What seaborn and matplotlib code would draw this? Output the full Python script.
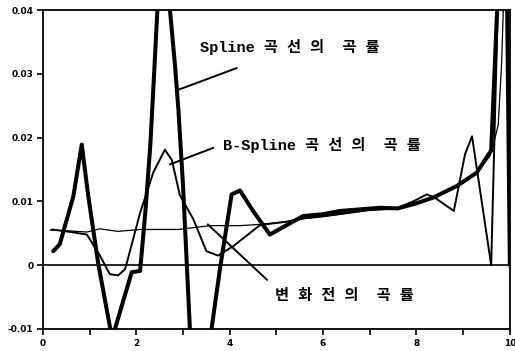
import matplotlib
matplotlib.use("Agg")
import matplotlib.pyplot as plt
import seaborn as sns
import pandas as pd

# Data
orig_x = [0.15, 0.5, 0.94, 1.22, 1.6, 2.08, 2.9, 3.58, 4.22, 4.65, 5.2, 5.6, 6.0, 6.5, 7.0,
          7.57, 8.0, 8.36, 8.86, 9.29, 9.57, 9.64, 9.75, 9.82, 9.86, 9.9]
orig_y = [0.0055, 0.0054, 0.0052, 0.0057, 0.0053, 0.0056, 0.0056, 0.0062, 0.0062, 0.0064,
          0.0068, 0.0073, 0.0076, 0.0081, 0.0086, 0.0088, 0.0097, 0.0106, 0.0124, 0.0145,
          0.0171, 0.0186, 0.0220, 0.0310, 0.0400, 0.0480]

bspl_x = [0.19, 0.6, 0.94, 1.22, 1.43, 1.61, 1.76, 2.08, 2.36, 2.61, 2.76, 2.93, 3.22, 3.5,
          3.75, 4.08, 4.65, 5.2, 5.6, 6.0, 6.5, 7.0, 7.57, 7.93, 8.22, 8.39, 8.8, 9.04,
          9.19, 9.6, 9.74, 9.8]
bspl_y = [0.0056, 0.0052, 0.0048, 0.0015, -0.0014, -0.0016, -0.0006, 0.0082, 0.0145, 0.0181,
          0.0165, 0.0110, 0.0072, 0.0022, 0.0015, 0.0030, 0.0063, 0.0068, 0.0074, 0.0077,
          0.0082, 0.0087, 0.0089, 0.0100, 0.0111, 0.0106, 0.0085, 0.0174, 0.0202, 0.0000,
          0.0400, 0.0500]

spl_x = [0.22, 0.36, 0.65, 0.83, 0.97, 1.18, 1.48, 1.9, 2.08, 2.2, 2.3, 2.38, 2.45, 2.58,
         2.72, 2.83, 2.9, 3.0, 3.15, 3.26, 3.61, 3.79, 4.04, 4.22, 4.5, 4.86, 5.2, 5.57,
         6.0, 6.36, 7.22, 7.6, 8.0, 8.36, 8.86, 9.29, 9.6, 9.9, 10.0]
spl_y = [0.0022, 0.0033, 0.0108, 0.0189, 0.0108, 0.0004, -0.0115, -0.0011, -0.0009, 0.0090,
         0.0190, 0.0300, 0.0400, 0.0620, 0.0400, 0.0311, 0.0244, 0.0124, -0.0105, -0.0270,
         -0.0100, -0.0006, 0.0111, 0.0117, 0.0085, 0.0048, 0.0062, 0.0077, 0.0080, 0.0085,
         0.0090, 0.0089, 0.0097, 0.0106, 0.0124, 0.0145, 0.0180, 0.0700, 0.0000]

x_ticks = [0, 1, 2, 3, 4, 5, 6, 7, 8, 9, 10]
x_ticklabels = ["0", "", "2", "", "4", "", "6", "", "8", "", "10"]
y_ticks = [-0.01, 0.0, 0.01, 0.02, 0.03, 0.04]
y_ticklabels = ["-0.01", "0", "0.01", "0.02", "0.03", "0.04"]

label_spline = "Spline 곡 선 의  곡 률"
label_bspline = "B-Spline 곡 선 의  곡 률"
label_orig = "변 화 전 의  곡 률"

sns.set_theme(style="white")
plt.rcParams['font.family'] = ['DejaVu Sans', 'Noto Sans CJK KR']

fig = plt.figure(figsize=(5.15, 3.51), dpi=100)
ax = fig.add_axes([0.0835, 0.0627, 0.9065, 0.9088])

df_o = pd.DataFrame({"x": orig_x, "y": orig_y})
df_b = pd.DataFrame({"x": bspl_x, "y": bspl_y})
df_s = pd.DataFrame({"x": spl_x, "y": spl_y})

sns.lineplot(data=df_o, x="x", y="y", ax=ax, color="black", lw=0.9, estimator=None, sort=False)
sns.lineplot(data=df_b, x="x", y="y", ax=ax, color="black", lw=1.4, estimator=None, sort=False)
sns.lineplot(data=df_s, x="x", y="y", ax=ax, color="black", lw=2.9, estimator=None, sort=False)

ax.axhline(0, color="black", lw=1.2)

ax.set_xlim(0, 10)
ax.set_ylim(-0.01, 0.04)
ax.set_xticks(x_ticks)
ax.set_xticklabels(x_ticklabels)
ax.set_yticks(y_ticks)
ax.set_yticklabels(y_ticklabels)
ax.set_xlabel("")
ax.set_ylabel("")

for s in ax.spines.values():
    s.set_visible(True)
    s.set_color("black")
    s.set_linewidth(1.3)

ax.tick_params(axis="both", direction="out", length=4, width=1.2, colors="black",
               labelsize=6.5, pad=3, bottom=True, left=True)
for t in ax.get_xticklabels() + ax.get_yticklabels():
    t.set_fontweight("bold")

# annotations
txt_family = ['Liberation Mono', 'Noto Sans CJK KR']
ax.annotate("", xy=(2.90, 0.0275), xytext=(4.15, 0.0309),
            arrowprops=dict(arrowstyle="-", color="black", lw=1.4, shrinkA=0, shrinkB=0))
ax.text(3.36, 0.0342, label_spline, family=txt_family, fontsize=11, fontweight="bold",
        va="center", ha="left", color="black")

ax.annotate("", xy=(2.72, 0.0158), xytext=(3.65, 0.0184),
            arrowprops=dict(arrowstyle="-", color="black", lw=1.4, shrinkA=0, shrinkB=0))
ax.text(3.85, 0.0189, label_bspline, family=txt_family, fontsize=11, fontweight="bold",
        va="center", ha="left", color="black")

ax.annotate("", xy=(3.53, 0.0064), xytext=(4.80, -0.0023),
            arrowprops=dict(arrowstyle="-", color="black", lw=1.4, shrinkA=0, shrinkB=0))
ax.text(4.97, -0.0048, label_orig, family=txt_family, fontsize=11, fontweight="bold",
        va="center", ha="left", color="black")

fig.savefig("out.png", dpi=100)
